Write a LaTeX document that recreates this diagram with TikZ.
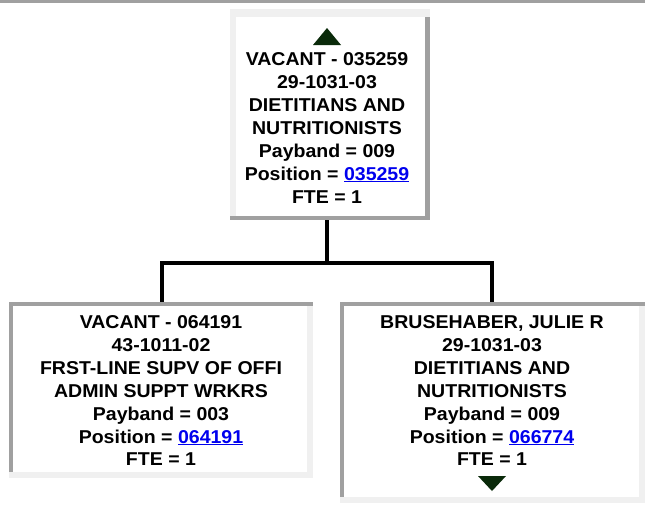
\documentclass[tikz,border=0pt]{standalone}
\usepackage{fontspec}
\newfontfamily\af{Liberation Sans}[FakeStretch=1.05]
\definecolor{darkg}{HTML}{A0A0A0}
\definecolor{lightg}{HTML}{F0F0F0}
\definecolor{linkblue}{HTML}{0000EE}
\definecolor{arrowc}{HTML}{0A2A0A}
\newcommand{\lnk}[1]{{\color{linkblue}\setbox0\hbox{#1}\rlap{\rule[-2.4pt]{\wd0}{1.7pt}}\box0}}
\tikzset{
  box/.style={rectangle, fill=white, draw=none, inner sep=0pt},
  txt/.style={inner sep=0pt, anchor=base, font=\af\bfseries\fontsize{18.6}{22.8}\selectfont},
  conn/.style={line width=4pt, black},
}
\begin{document}
\begin{tikzpicture}[x=1pt,y=-1pt]
\useasboundingbox (0,0) rectangle (645,507);
\fill[white] (0,0) rectangle (645,507);
% top rule
\fill[darkg] (0,0) rectangle (645,2.5);

% boxes
\node[box, minimum width=200pt, minimum height=211pt] (top) at (330,114.5) {};
\node[box, minimum width=304pt, minimum height=176pt] (left) at (161,390) {};
\node[box, minimum width=305pt, minimum height=201pt] (right) at (492.5,402.5) {};

% top box borders (light top/left, dark bottom/right)
\fill[darkg] (top.north east) rectangle ([xshift=-5pt]top.south east);
\fill[lightg] (top.north west) rectangle ([yshift=-8pt]top.north east);
\fill[lightg] (top.north west) rectangle ([xshift=6pt]top.south west);
\fill[darkg] (top.south west) rectangle ([yshift=4pt]top.south east);

% child borders (dark top/left, light bottom/right)
\foreach \b in {left,right}{
  \fill[lightg] (\b.north east) rectangle ([xshift=-6pt]\b.south east);
  \fill[darkg] (\b.north west) rectangle ([yshift=-4pt]\b.north east);
  \fill[darkg] (\b.north west) rectangle ([xshift=4pt]\b.south west);
  \fill[lightg] (\b.south west) rectangle ([yshift=6pt]\b.south east);
}

% connectors
\coordinate (jn) at (327,263);
\coordinate (jl) at (162,263);
\coordinate (jr) at (492,263);
\draw[conn] (327,220) -- (jn);
\draw[conn] ([xshift=-2pt]jl) -- ([xshift=2pt]jr);
\draw[conn] (jl) -- (jl |- left.north);
\draw[conn] (jr) -- (jr |- right.north);

% triangles
\fill[arrowc] (327,28) -- (341,45) -- (313,45) -- cycle;
\fill[arrowc] (478,476) -- (506,476) -- (492,491) -- cycle;

% top text
\node[txt] (t1) at (327,65) {VACANT - 035259};
\node[txt] (t2) at (327,88) {29-1031-03};
\node[txt] (t3) at (327,111.5) {DIETITIANS AND};
\node[txt] (t4) at (327,134.5) {NUTRITIONISTS};
\node[txt] (t5) at (327,157) {Payband = 009};
\node[txt] (t6) at (327,180) {Position = \lnk{035259}};
\node[txt] (t7) at (327,203) {FTE = 1};

% left text
\node[txt] (l1) at (161,328) {VACANT - 064191};
\node[txt] (l2) at (161,351.5) {43-1011-02};
\node[txt] (l3) at (161,374.5) {FRST-LINE SUPV OF OFFI};
\node[txt] (l4) at (161,397) {ADMIN SUPPT WRKRS};
\node[txt] (l5) at (161,420) {Payband = 003};
\node[txt] (l6) at (161,443) {Position = \lnk{064191}};
\node[txt] (l7) at (161,465.5) {FTE = 1};

% right text
\node[txt] (r1) at (492,328) {BRUSEHABER, JULIE R};
\node[txt] (r2) at (492,351.5) {29-1031-03};
\node[txt] (r3) at (492,374.5) {DIETITIANS AND};
\node[txt] (r4) at (492,397) {NUTRITIONISTS};
\node[txt] (r5) at (492,420) {Payband = 009};
\node[txt] (r6) at (492,443) {Position = \lnk{066774}};
\node[txt] (r7) at (492,465.5) {FTE = 1};
\end{tikzpicture}
\end{document}
